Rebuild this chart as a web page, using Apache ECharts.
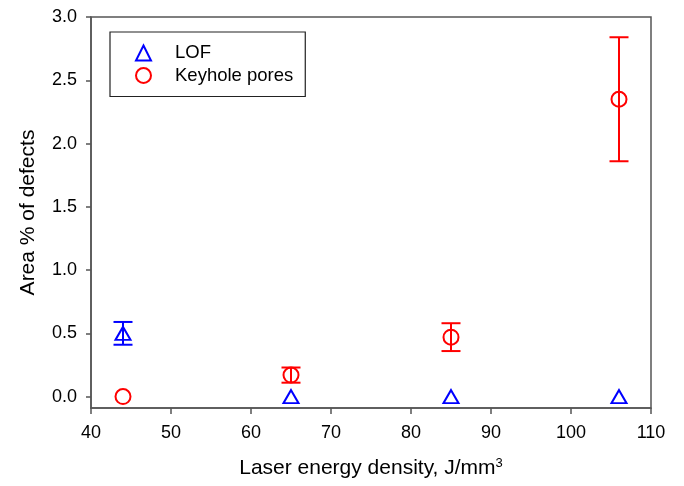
<!DOCTYPE html>
<html><head><meta charset="utf-8">
<script src="https://cdn.jsdelivr.net/npm/echarts@6/dist/echarts.min.js"></script>
<style>html,body{margin:0;padding:0;background:#fff}#c{width:684px;height:486px}</style>
</head><body><div id="c"></div>
<script>
const xValues = [44, 65, 85, 106];
const lofMean = [0.50, 0.00, 0.00, 0.00];
const lofErr = [0.09, 0, 0, 0];
const keyMean = [0.00, 0.17, 0.47, 2.35];
const keyErr = [0, 0.06, 0.11, 0.49];
const xTicks = [40, 50, 60, 70, 80, 90, 100, 110];
const yTicks = [0.0, 0.5, 1.0, 1.5, 2.0, 2.5, 3.0];

const BLUE = '#0000ff', RED = '#ff0000', AX = '#555';
const font = '"Liberation Sans", Arial, sans-serif';

function errData(mean, err) {
  return xValues.map((x, i) => [x, mean[i] - err[i], mean[i] + err[i], err[i]]);
}
function errSeries(name, mean, err, color) {
  return {
    type: 'custom', name: name, silent: true, z: 3,
    data: errData(mean, err),
    renderItem: function (params, api) {
      if (api.value(3) <= 0) return null;
      const lo = api.coord([api.value(0), api.value(1)]);
      const hi = api.coord([api.value(0), api.value(2)]);
      const w = 9.5;
      const st = { stroke: color, lineWidth: 2 };
      return { type: 'group', children: [
        { type: 'line', shape: { x1: lo[0], y1: lo[1], x2: hi[0], y2: hi[1] }, style: st },
        { type: 'line', shape: { x1: lo[0] - w, y1: lo[1], x2: lo[0] + w, y2: lo[1] }, style: st },
        { type: 'line', shape: { x1: hi[0] - w, y1: hi[1], x2: hi[0] + w, y2: hi[1] }, style: st }
      ]};
    }
  };
}

const chart = echarts.init(document.getElementById('c'));
chart.setOption({
  animation: false,
  textStyle: { fontFamily: font },
  grid: { left: 91, right: 33, top: 17, bottom: 78, show: true, borderColor: AX, borderWidth: 1.5 },
  legend: {
    orient: 'vertical', left: 110, top: 32,
    data: ['LOF', 'Keyhole pores'],
    borderColor: '#222', borderWidth: 1.2,
    padding: [11, 12, 11, 25],
    itemWidth: 15, itemHeight: 15, itemGap: 2.5,
    textStyle: { fontSize: 18.5, lineHeight: 20, color: '#000', fontFamily: font, padding: [0, 0, 0, 19] }
  },
  xAxis: {
    type: 'value', min: 40, max: 110, interval: 10,
    name: 'Laser energy density, J/mm{sup|3}', nameLocation: 'middle', nameGap: 49,
    nameTextStyle: { fontSize: 21, color: '#000', fontFamily: font,
      rich: { sup: { fontSize: 13, verticalAlign: 'top', padding: [0, 0, 9, 0], fontFamily: font, color: '#000' } } },
    axisLine: { show: true, onZero: false, lineStyle: { color: AX, width: 1.5 } },
    axisTick: { show: true, inside: false, length: 6, lineStyle: { color: AX, width: 1.5 } },
    axisLabel: { fontSize: 18, color: '#000', margin: 16, fontFamily: font },
    splitLine: { show: false }
  },
  yAxis: {
    type: 'value', min: -0.09, max: 3.0,
    name: 'Area % of defects', nameLocation: 'middle', nameGap: 52,
    nameTextStyle: { fontSize: 21, color: '#000', fontFamily: font },
    axisLine: { show: true, onZero: false, lineStyle: { color: AX, width: 1.5 } },
    axisTick: { show: true, inside: false, length: 5, lineStyle: { color: AX, width: 1.5 },
      customValues: yTicks },
    axisLabel: { fontSize: 18, color: '#000', margin: 14, fontFamily: font,
      customValues: yTicks, formatter: v => v.toFixed(1) },
    splitLine: { show: false }
  },
  series: [
    errSeries('LOF error', lofMean, lofErr, BLUE),
    errSeries('Keyhole pores error', keyMean, keyErr, RED),
    {
      type: 'scatter', name: 'LOF', symbol: 'triangle', symbolSize: [15, 13], z: 4,
      itemStyle: { color: 'rgba(0,0,0,0)', borderColor: BLUE, borderWidth: 2, opacity: 1 },
      data: xValues.map((x, i) => [x, lofMean[i]])
    },
    {
      type: 'scatter', name: 'Keyhole pores', symbol: 'circle', symbolSize: 15, z: 4,
      itemStyle: { color: 'rgba(0,0,0,0)', borderColor: RED, borderWidth: 2, opacity: 1 },
      data: xValues.map((x, i) => [x, keyMean[i]])
    }
  ]
});
</script></body></html>
